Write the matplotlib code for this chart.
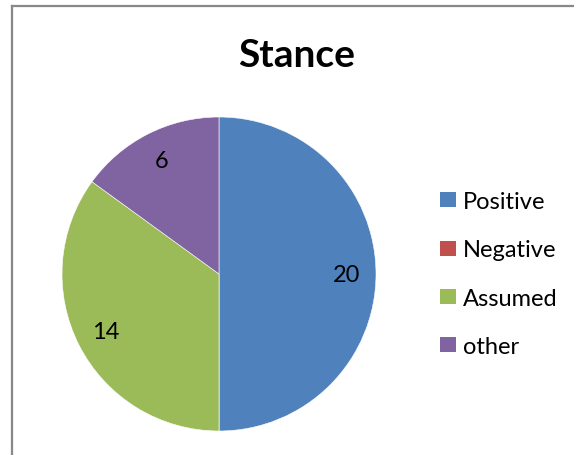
import matplotlib
matplotlib.use("Agg")
import matplotlib.pyplot as plt
from matplotlib.patches import Patch
from matplotlib.lines import Line2D

categories = ["Positive", "Negative", "Assumed", "other"]
values = [20, 0, 14, 6]
colors = ["#4F81BD", "#C0504D", "#9BBB59", "#8064A2"]

plt.rcParams['font.family'] = ['Lato', 'DejaVu Sans']

fig = plt.figure(figsize=(5.74, 4.56), dpi=100)

# chart frame (only left and top edges visible in the crop)
fig.add_artist(Line2D([11.5 / 574, 11.5 / 574], [0, 1 - 6.5 / 456], color="#888888", lw=1.6))
fig.add_artist(Line2D([11.5 / 574, 1], [1 - 6.5 / 456, 1 - 6.5 / 456], color="#888888", lw=1.6))

ax = fig.add_axes([62 / 574, 24 / 456, 314 / 574, 314 / 456])


def fmt(pct):
    v = round(pct * sum(values) / 100)
    return "" if v == 0 else str(v)


wedges, texts, autotexts = ax.pie(values, colors=colors, startangle=90, counterclock=False,
                                  autopct=fmt, pctdistance=0.81, radius=1,
                                  wedgeprops=dict(edgecolor="white", linewidth=0.4),
                                  textprops=dict(fontsize=17, color="black"))
ax.set_xlim(-1, 1)
ax.set_ylim(-1, 1)
ax.set_aspect("equal")

fig.text(297 / 574, 1 - 67 / 456, "Stance", fontsize=28, fontweight="bold",
         ha="center", va="baseline")

handles = [Patch(facecolor=c, edgecolor="none") for c in colors]
fig.legend(handles, categories, loc="center left", bbox_to_anchor=(419 / 574, 1 - 275 / 456),
           frameon=False, fontsize=17, handlelength=0.66, handleheight=0.6,
           handletextpad=0.3, labelspacing=1.15)

fig.savefig("out.png", dpi=100)
